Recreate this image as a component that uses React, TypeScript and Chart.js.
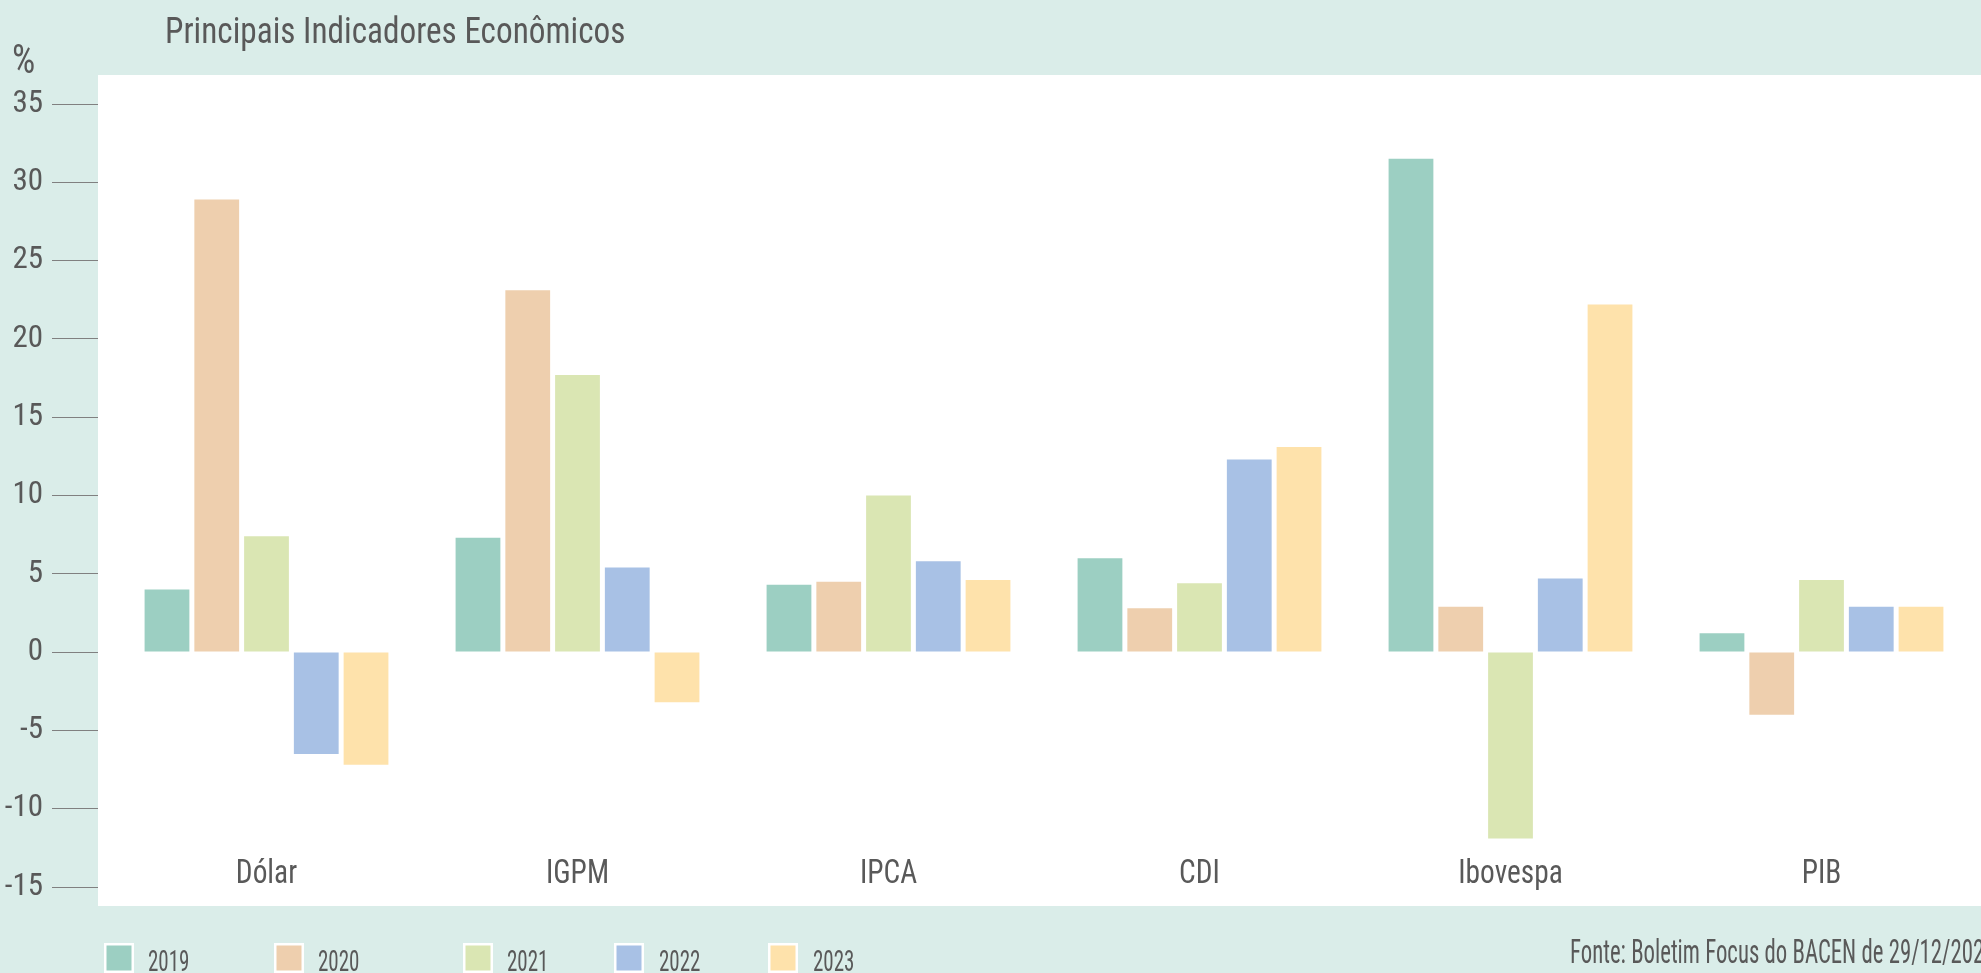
import React, { useEffect, useRef } from "react";
import { Chart, registerables } from "chart.js";

Chart.register(...registerables);

// ---- data ----
const categories = ["Dólar", "IGPM", "IPCA", "CDI", "Ibovespa", "PIB"];
const years = ["2019", "2020", "2021", "2022", "2023"];
const v2019 = [4.0, 7.3, 4.3, 6.0, 31.5, 1.2];
const v2020 = [28.9, 23.1, 4.5, 2.8, 2.9, -4.0];
const v2021 = [7.4, 17.7, 10.0, 4.4, -11.9, 4.6];
const v2022 = [-6.5, 5.4, 5.8, 12.3, 4.7, 2.9];
const v2023 = [-7.2, -3.2, 4.6, 13.1, 22.2, 2.9];
const yMin = -15;
const yMax = 35;
const yStep = 5;
const title = "Principais Indicadores Econômicos";
const unitLabel = "%";
const source = "Fonte: Boletim Focus do BACEN de 29/12/2023";

// ---- styles ----
const colors = ["#9CCFC2", "#EECFAE", "#DAE6B3", "#A8C1E5", "#FEE2AB"];
const BG = "#DAEDE9";
const TEXT = "#595959";
const FONT = "'Liberation Sans Narrow', 'Arial Narrow', 'Roboto Condensed', sans-serif";
const W = 1981;
const H = 973;
const legendBoxX = [104, 274, 463, 614, 768];
const legendTextX = [148, 318, 507, 659, 813];

function drawText(
  ctx: CanvasRenderingContext2D,
  text: string,
  x: number,
  y: number,
  size: number,
  scaleX: number,
  align: CanvasTextAlign
) {
  ctx.save();
  ctx.font = `${size}px ${FONT}`;
  ctx.fillStyle = TEXT;
  ctx.textAlign = align;
  ctx.textBaseline = "alphabetic";
  ctx.translate(x, y);
  ctx.scale(scaleX, 1);
  ctx.fillText(text, 0, 0);
  ctx.restore();
}

const decorPlugin = {
  id: "decor",
  beforeDraw(chart: any) {
    const ctx = chart.ctx as CanvasRenderingContext2D;
    ctx.save();
    ctx.fillStyle = BG;
    ctx.fillRect(0, 0, chart.width, chart.height);
    ctx.restore();
  },
  beforeDatasetsDraw(chart: any) {
    const ctx = chart.ctx as CanvasRenderingContext2D;
    const a = chart.chartArea;
    ctx.save();
    ctx.fillStyle = "#FFFFFF";
    ctx.fillRect(a.left - 13, a.top - 29, chart.width - (a.left - 13), a.bottom - a.top + 48);
    ctx.restore();
  },
  afterDraw(chart: any) {
    const ctx = chart.ctx as CanvasRenderingContext2D;
    const xs = chart.scales.x;
    // category labels
    categories.forEach((c, i) => {
      drawText(ctx, c, xs.getPixelForValue(i), 883, 33, 0.89, "center");
    });
    // title and unit
    drawText(ctx, title, 165, 43, 36, 0.924, "left");
    drawText(ctx, unitLabel, 12, 73, 40, 0.92, "left");
    // legend
    chart.data.datasets.forEach((ds: any, i: number) => {
      const bx = legendBoxX[i];
      ctx.save();
      ctx.fillStyle = "#FFFFFF";
      ctx.fillRect(bx, 943, 30, 30);
      ctx.fillStyle = ds.backgroundColor;
      ctx.fillRect(bx + 2.5, 945.5, 25, 25);
      ctx.restore();
      drawText(ctx, ds.label, legendTextX[i], 971, 30, 0.7, "left");
    });
    // source
    drawText(ctx, source, 1570, 963, 33, 0.69, "left");
  },
};

export default function App() {
  const ref = useRef<HTMLCanvasElement | null>(null);

  useEffect(() => {
    if (!ref.current) return;
    const series = [v2019, v2020, v2021, v2022, v2023];
    const chart = new Chart(ref.current, {
      type: "bar",
      data: {
        labels: categories,
        datasets: years.map((y, i) => ({
          label: y,
          data: series[i],
          backgroundColor: colors[i],
          borderWidth: 0,
          categoryPercentage: 0.8,
          barPercentage: 0.9,
        })),
      },
      options: {
        responsive: false,
        animation: false,
        devicePixelRatio: 1,
        layout: { padding: { left: 0, top: 104, right: 4, bottom: 86 } },
        plugins: {
          legend: { display: false },
          title: { display: false },
          tooltip: { enabled: false },
        },
        scales: {
          x: { display: false },
          y: {
            min: yMin,
            max: yMax,
            afterFit: (s: any) => {
              s.width = 111;
            },
            ticks: {
              stepSize: yStep,
              padding: 9,
              color: TEXT,
              font: { family: FONT, size: 31 },
            },
            grid: {
              drawOnChartArea: false,
              drawTicks: true,
              tickLength: 59,
              color: "#808080",
              lineWidth: 1,
            },
            border: { display: false },
          },
        },
      },
      plugins: [decorPlugin],
    });
    return () => chart.destroy();
  }, []);

  return (
    <div style={{ position: "absolute", left: 0, top: 0, width: W, height: H }}>
      <canvas ref={ref} width={W} height={H} style={{ display: "block" }} />
    </div>
  );
}
